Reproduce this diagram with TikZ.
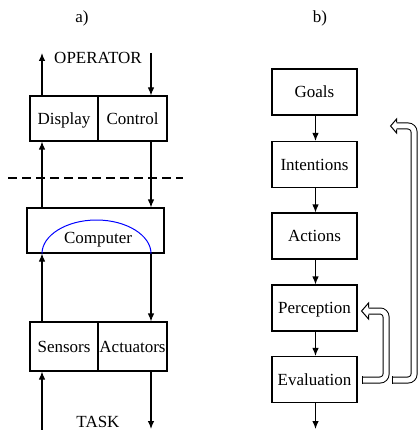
\documentclass[tikz,border=0pt]{standalone}
\usepackage{fontspec}
\setmainfont{Liberation Serif}
\usetikzlibrary{arrows.meta,calc}
\begin{document}
\begin{tikzpicture}[x=1pt,y=-1pt,
  every node/.style={font=\rmfamily\fontsize{17}{20}\selectfont, inner sep=0pt, text height=11.5pt, text depth=0pt},
  box/.style={draw, line width=1.1pt, rectangle},
  bbox/.style={box, minimum width=85pt, minimum height=46pt},
  arr/.style={line width=1.1pt, -{Latex[length=8pt,width=6.5pt]}},
  ln/.style={line width=1pt},
  hollow/.style={line width=1pt, double=white, double distance=5pt, rounded corners=6pt}]
\useasboundingbox (0,0) rectangle (417,430);
% ---------- a) ----------
\node (la) at (82,17) {a)};
\node (op) at (98,58) {OPERATOR};
\node (task) at (98,422) {TASK};
\coordinate (L) at (42,0);
\coordinate (R) at (151,0);
\coordinate (opL) at (42,53);
\coordinate (opR) at (151,53);
\coordinate (tkL) at (42,430);
\coordinate (tkR) at (151,429);
\node[box, minimum width=68pt, minimum height=45pt] (disp) at (64,118.5) {Display};
\node[box, minimum width=69pt, minimum height=45pt] (ctrl) at (132.5,118.5) {Control};
\node[box, minimum width=137pt, minimum height=45pt] (comp) at (95.5,230.5) {};
\node (comptxt) at (98,238) {Computer};
\node[box, minimum width=68pt, minimum height=49pt] (sens) at (64,346.5) {Sensors};
\node[box, minimum width=69pt, minimum height=49pt] (act) at (132.5,346.5) {Actuators};
\coordinate (dashA) at (8,178);
\coordinate (dashB) at (183,178);
\draw[line width=2.6pt, dash pattern=on 9pt off 5pt] (dashA) -- (dashB);
% blue arc
\draw[blue, line width=1pt] (comp.south -| L)
  .. controls ($(comp.south -| L)+(0,-18.2)$) and (66.4,220) .. (96.5,220)
  .. controls (126.6,220) and ($(comp.south -| R)+(0,-18.2)$) .. (comp.south -| R);
% arrows a)
\draw[arr] (disp.north -| L) -- (opL);
\draw[arr] (opR) -- (ctrl.north -| R);
\draw[arr] (comp.north -| L) -- (disp.south -| L);
\draw[arr] (ctrl.south -| R) -- (comp.north -| R);
\draw[arr] (sens.north -| L) -- (comp.south -| L);
\draw[arr] (comp.south -| R) -- (act.north -| R);
\draw[arr] (tkL) -- (sens.south -| L);
\draw[arr] (act.south -| R) -- (tkR);
% ---------- b) ----------
\node (lb) at (320,17) {b)};
\node[bbox] (goals) at (314.5,92) {Goals};
\node[bbox] (int) at (314.5,164.5) {Intentions};
\node[bbox] (actn) at (314.5,236) {Actions};
\node[bbox] (perc) at (314.5,308) {Perception};
\node[bbox] (eval) at (314.5,379.5) {Evaluation};
\coordinate (bend) at (315.5,429);
\draw[arr] (goals.south -| bend) -- (int.north -| bend);
\draw[arr] (int.south -| bend) -- (actn.north -| bend);
\draw[arr] (actn.south -| bend) -- (perc.north -| bend);
\draw[arr] (perc.south -| bend) -- (eval.north -| bend);
\draw[arr] (eval.south -| bend) -- (bend);
% hollow arrows
\begin{scope}[shift={(eval.east)}]
  % short loop: Evaluation -> Perception
  \draw[hollow] (5,0.5) -- (28.5,0.5) -- (28.5,-68.5) -- (10.5,-68.5);
  \draw[ln] (5,-3.5) -- (5,4.5);
  \fill[white] (11,-60.5) -- (4,-68.5) -- (11,-76.5) -- cycle;
  \draw[ln, line join=miter] (11,-65) -- (11,-60.5) -- (4,-68.5) -- (11,-76.5) -- (11,-72);
  % long loop
  \draw[hollow] (35,0.5) -- (56.5,0.5) -- (56.5,-253.5) -- (38.5,-253.5);
  \draw[ln] (35,-3.5) -- (35,4.5);
  \fill[white] (39,-246.5) -- (33,-253.5) -- (39,-260.5) -- cycle;
  \draw[ln, line join=miter] (39,-250) -- (39,-246.5) -- (33,-253.5) -- (39,-260.5) -- (39,-257);
\end{scope}
\end{tikzpicture}
\end{document}
